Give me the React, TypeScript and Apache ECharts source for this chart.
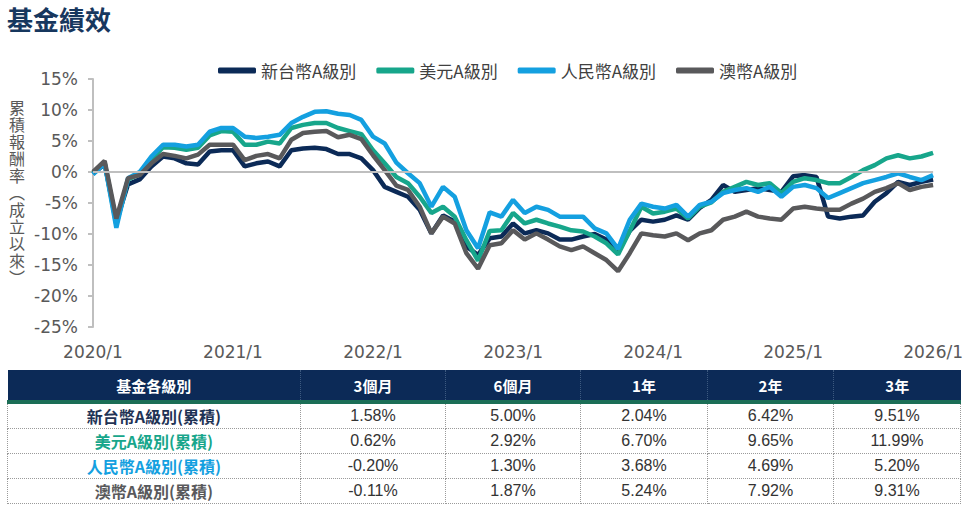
import React, { useEffect, useRef } from "react";
import * as echarts from "echarts";

// ---- data ----
const months: string[] = [];
for (let y = 2020; y <= 2026; y++) {
  for (let m = 1; m <= 12; m++) {
    if (y === 2026 && m > 1) break;
    months.push(`${y}/${m}`);
  }
}

const seriesNames = ["新台幣A級別", "美元A級別", "人民幣A級別", "澳幣A級別"];
const seriesColors = ["#0b2a57", "#17a68b", "#14a0e0", "#59595b"];

const twdA = [
  -0.3, 1.3, -8.0, -2.0, -1.2, 0.9, 2.5, 2.2, 1.4, 1.2, 3.3, 3.5,
  3.5, 0.9, 1.4, 1.7, 0.9, 3.5, 3.8, 3.9, 3.7, 2.9, 2.9, 2.2,
  0.3, -2.4, -3.2, -4.0, -6.1, -9.9, -7.0, -8.0, -12.0, -13.4, -10.7, -10.4,
  -8.3, -9.9, -9.4, -9.9, -10.9, -10.9, -10.4, -10.0, -10.9, -12.8, -9.5, -7.7,
  -8.0, -7.7, -7.0, -7.7, -5.8, -4.5, -2.1, -3.2, -2.9, -2.6, -2.9, -3.2,
  -0.7, -0.5, -0.8, -7.2, -7.5, -7.2, -7.0, -4.8, -3.4, -1.6, -2.1, -1.6,
  -1.2,
];
const usdA = [
  -0.2, 1.5, -8.5, -1.2, -0.3, 2.0, 4.0, 3.9, 3.6, 3.9, 5.9, 6.6,
  6.5, 4.4, 4.4, 4.9, 4.6, 7.1, 7.6, 7.9, 7.9, 7.1, 6.6, 6.1,
  3.5, 1.4, -0.8, -1.8, -4.0, -6.6, -5.6, -7.2, -11.0, -14.3, -9.5, -9.4,
  -6.6, -8.3, -7.7, -8.3, -8.8, -9.4, -9.6, -10.4, -11.5, -13.3, -9.5, -5.6,
  -6.7, -6.4, -5.9, -7.5, -5.6, -4.9, -3.2, -2.4, -1.6, -2.1, -1.8, -3.4,
  -1.6, -1.0, -1.3, -1.8, -1.8, -0.8, 0.3, 1.1, 2.2, 2.7, 2.2, 2.5,
  3.1,
];
const cnyA = [
  -0.4, 1.4, -9.0, -1.0, 0.0, 2.5, 4.4, 4.4, 4.1, 4.4, 6.5, 7.1,
  7.1, 5.7, 5.5, 5.7, 6.0, 7.9, 8.9, 9.7, 9.8, 9.4, 9.2, 8.4,
  5.7, 4.6, 1.5, -0.2, -1.8, -5.6, -2.4, -4.0, -9.4, -12.3, -6.5, -7.2,
  -4.5, -6.6, -5.6, -6.1, -7.2, -7.2, -7.2, -9.1, -9.9, -12.4, -7.7, -5.1,
  -5.6, -5.9, -5.3, -7.2, -5.3, -4.8, -3.4, -2.9, -2.6, -3.2, -2.4, -4.0,
  -2.4, -2.1, -2.6, -4.2, -3.4, -2.6, -1.8, -1.3, -0.8, -0.2, -0.8, -1.3,
  -0.5,
];
const audA = [
  0.0, 1.8, -7.5, -1.0, -0.5, 1.4, 2.9, 2.6, 2.2, 2.8, 4.4, 4.4,
  4.4, 1.9, 2.6, 2.9, 2.2, 5.2, 6.3, 6.5, 6.6, 5.6, 6.0, 5.3,
  2.7, 0.3, -2.2, -2.9, -5.6, -9.9, -7.2, -8.3, -13.1, -15.6, -11.8, -11.5,
  -9.4, -10.9, -9.9, -10.9, -12.0, -12.6, -12.0, -13.1, -14.2, -16.0, -13.1, -9.9,
  -10.2, -10.4, -9.9, -11.0, -9.9, -9.4, -7.7, -7.2, -6.4, -7.2, -7.5, -7.7,
  -5.9, -5.6, -5.9, -6.1, -6.1, -5.1, -4.3, -3.2, -2.6, -1.8, -2.9, -2.4,
  -2.1,
];
const seriesData = [twdA, usdA, cnyA, audA];

const tableHeaders = ["基金各級別", "3個月", "6個月", "1年", "2年", "3年"];
const tableRowNames = ["新台幣A級別(累積)", "美元A級別(累積)", "人民幣A級別(累積)", "澳幣A級別(累積)"];
const rowTwd = ["1.58%", "5.00%", "2.04%", "6.42%", "9.51%"];
const rowUsd = ["0.62%", "2.92%", "6.70%", "9.65%", "11.99%"];
const rowCny = ["-0.20%", "1.30%", "3.68%", "4.69%", "5.20%"];
const rowAud = ["-0.11%", "1.87%", "5.24%", "7.92%", "9.31%"];
const tableRows = [rowTwd, rowUsd, rowCny, rowAud];
const rowNameColors = ["#1f3355", "#17a68b", "#14a0e0", "#59595b"];
const colWidths = [293, 145, 135, 127, 126, 127];

const CJK = '"Noto Sans CJK TC", "Noto Sans CJK SC", sans-serif';
const NUM = '"DejaVu Sans", sans-serif';

export default function App() {
  const ref = useRef<HTMLDivElement>(null);

  useEffect(() => {
    if (!ref.current) return;
    const chart = echarts.init(ref.current, null, { renderer: "svg" });
    const yName = "累積報酬率︵成立以來︶".split("").join("\n");
    chart.setOption({
      animation: false,
      title: {
        text: "基金績效",
        left: 2,
        top: 0,
        textStyle: { fontSize: 26, fontWeight: "bold", color: "#17375e", fontFamily: CJK },
      },
      legend: {
        data: seriesNames,
        left: 213,
        top: 57,
        icon: "roundRect",
        itemWidth: 38,
        itemHeight: 6,
        itemGap: 20,
        textStyle: { fontSize: 17, color: "#404040", fontFamily: CJK },
      },
      graphic: [
        {
          type: "text",
          left: 9,
          top: 98,
          style: {
            text: yName,
            fontSize: 16,
            lineHeight: 17,
            fill: "#595959",
            fontFamily: CJK,
            textAlign: "center",
          },
        },
      ],
      grid: { left: 93, top: 79, width: 843, height: 248, containLabel: false },
      xAxis: {
        type: "category",
        data: months,
        boundaryGap: false,
        axisLine: { show: false, onZero: false },
        axisTick: { show: false },
        axisLabel: {
          interval: (i: number) => i % 12 === 0,
          margin: 16,
          fontSize: 17,
          color: "#595959",
          fontFamily: NUM,
          showMaxLabel: true,
          hideOverlap: false,
        },
        splitLine: { show: false },
      },
      yAxis: {
        type: "value",
        min: -25,
        max: 15,
        interval: 5,
        axisLine: { show: true, lineStyle: { color: "#bfbfbf", width: 2 } },
        axisTick: { show: true, length: 5, lineStyle: { color: "#bfbfbf", width: 2 } },
        axisLabel: {
          formatter: "{value}%",
          margin: 15,
          fontSize: 17,
          color: "#595959",
          fontFamily: NUM,
        },
        splitLine: { show: false },
      },
      series: seriesNames.map((name, i) => ({
        name,
        type: "line",
        data: seriesData[i],
        showSymbol: false,
        symbol: "none",
        color: seriesColors[i],
        lineStyle: { width: 4.5, color: seriesColors[i] },
        ...(i === 0
          ? {
              markLine: {
                silent: true,
                symbol: "none",
                label: { show: false },
                lineStyle: { color: "#bfbfbf", width: 2, type: "solid" },
                data: [{ yAxis: 0 }],
              },
            }
          : {}),
      })),
    });
    return () => chart.dispose();
  }, []);

  const cellBorder = "1px dotted #9a9a9a";

  return (
    <div style={{ position: "absolute", left: 0, top: 0, width: 966, height: 511, background: "#fff", overflow: "hidden" }}>
      <div ref={ref} style={{ position: "absolute", left: 0, top: 0, width: 966, height: 368 }} />
      <table
        style={{
          position: "absolute",
          left: 7,
          top: 370,
          width: 953,
          borderCollapse: "collapse",
          tableLayout: "fixed",
          fontFamily: CJK,
        }}
      >
        <colgroup>
          {colWidths.map((w, i) => (
            <col key={i} style={{ width: w }} />
          ))}
        </colgroup>
        <thead>
          <tr style={{ height: 32 }}>
            {tableHeaders.map((h, i) => (
              <th
                key={i}
                style={{
                  background: "#0c2a57",
                  color: "#fff",
                  fontSize: 15,
                  fontWeight: "bold",
                  textAlign: "center",
                  padding: 0,
                  borderBottom: "4px solid #1b6e56",
                  borderRight: i < tableHeaders.length - 1 ? "1px dotted #3d5a80" : "none",
                }}
              >
                {h}
              </th>
            ))}
          </tr>
        </thead>
        <tbody>
          {tableRows.map((row, r) => (
            <tr key={r} style={{ height: 25 }}>
              <td
                style={{
                  color: rowNameColors[r],
                  fontWeight: "bold",
                  fontSize: 16,
                  textAlign: "center",
                  padding: 0,
                  border: cellBorder,
                }}
              >
                {tableRowNames[r]}
              </td>
              {row.map((v, c) => (
                <td
                  key={c}
                  style={{
                    color: "#333",
                    fontSize: 16,
                    fontFamily: '"Liberation Sans", sans-serif',
                    textAlign: "center",
                    padding: 0,
                    border: cellBorder,
                  }}
                >
                  {v}
                </td>
              ))}
            </tr>
          ))}
        </tbody>
      </table>
    </div>
  );
}
